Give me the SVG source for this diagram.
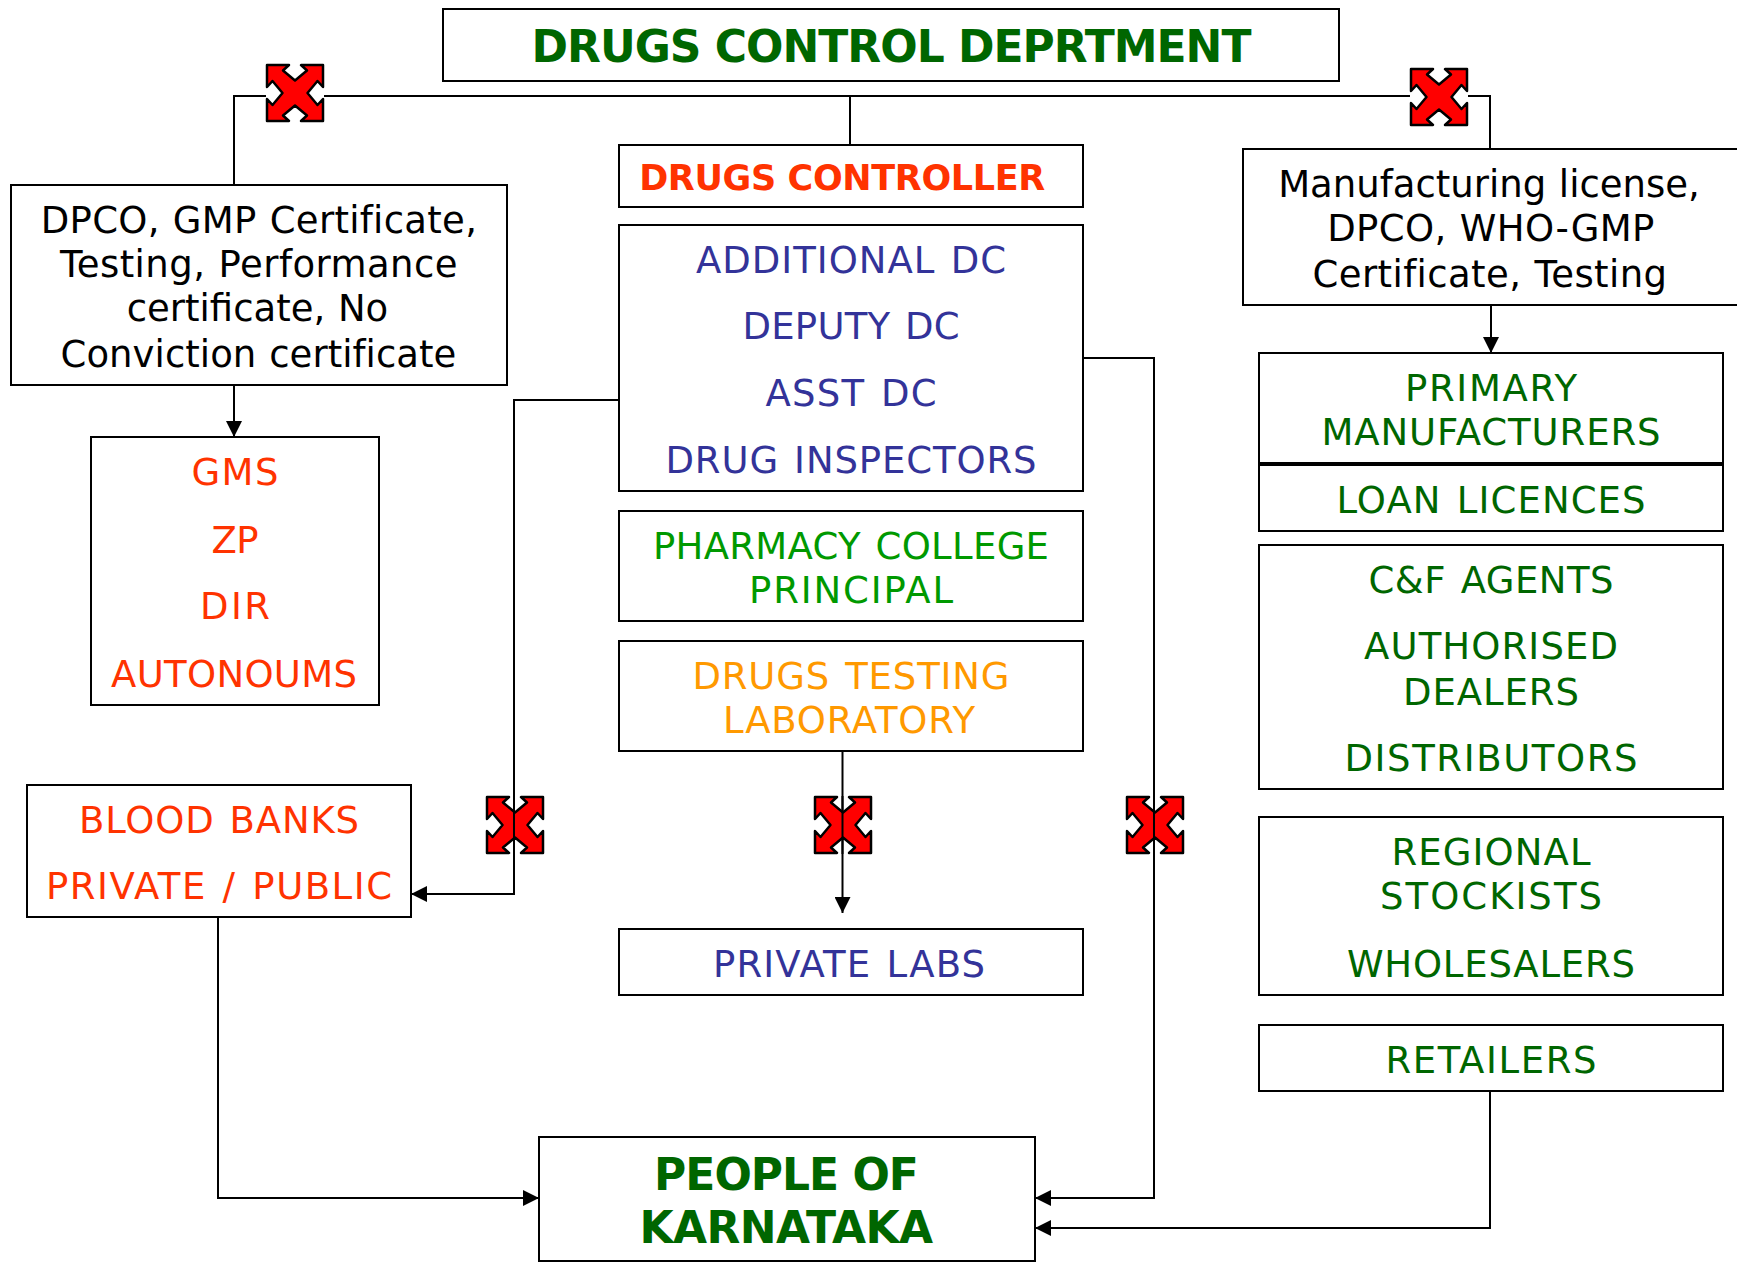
<svg xmlns="http://www.w3.org/2000/svg" width="1737" height="1262" viewBox="0 0 1737 1262">
<style>
text{font-family:"DejaVu Sans",Verdana,sans-serif;font-size:37px;text-anchor:middle;word-spacing:2.5px}
.b{fill:#fff;stroke:#000;stroke-width:2}
.c{fill:none;stroke:#000;stroke-width:2}
.x{fill:#f00;stroke:#000;stroke-width:2.5;stroke-linejoin:round}
.g{fill:#006600}.r{fill:#ff3300}.n{fill:#333399}.k{fill:#000;word-spacing:1px}.l{fill:#009900}.o{fill:#ff9900}
.h{font-weight:bold;font-size:44px;letter-spacing:-1px;word-spacing:0}
</style>
<defs>
<marker id="a" markerUnits="userSpaceOnUse" markerWidth="16" markerHeight="16" refX="16" refY="8" orient="auto"><path d="M0 0L16 8L0 16Z" fill="#000"/></marker>
<polygon id="m" points="1,1 23,1 17,6.5 29,16.5 41,6.5 35,1 57,1 57,23 51.5,17 41.5,29 51.5,41 57,35 57,57 35,57 41,51.5 29,41.5 17,51.5 23,57 1,57 1,35 6.5,41 16.5,29 6.5,17 1,23"/>
</defs>
<g id="connectors">
<path class="c" d="M234 185V96H1490V149"/>
<path class="c" d="M850 96V145"/>
<path class="c" d="M234 385V437" marker-end="url(#a)"/>
<path class="c" d="M1491 305V353" marker-end="url(#a)"/>
<path class="c" d="M619 400H514V894H411" marker-end="url(#a)"/>
<path class="c" d="M842.5 751V913" marker-end="url(#a)"/>
<path class="c" d="M1083 358H1154V1198H1035" marker-end="url(#a)"/>
<path class="c" d="M218 917V1198H539" marker-end="url(#a)"/>
<path class="c" d="M1490 1091V1228H1035" marker-end="url(#a)"/>
</g>
<g id="marks">
<g transform="translate(266 64)"><rect width="58" height="58" fill="#fff"/><use href="#m" class="x"/></g>
<g transform="translate(1410 68)"><rect width="58" height="58" fill="#fff"/><use href="#m" class="x"/></g>
<use href="#m" class="x" x="486" y="796"/>
<use href="#m" class="x" x="814" y="796"/>
<use href="#m" class="x" x="1126" y="796"/>
</g>
<path class="c" d="M514 796V854M842.5 796V854M1154 796V854"/>
<g id="title"><rect class="b" x="443" y="9" width="896" height="72"/><text class="g h" x="891" y="62">DRUGS CONTROL DEPRTMENT</text></g>
<g id="dc"><rect class="b" x="619" y="145" width="464" height="62"/><text class="r h" x="842" y="190" style="font-size:35px;letter-spacing:-.35px">DRUGS CONTROLLER</text></g>
<g id="officers"><rect class="b" x="619" y="225" width="464" height="266"/><text class="n" x="851" y="273" textLength="310">ADDITIONAL DC</text><text class="n" x="851" y="339" textLength="217">DEPUTY DC</text><text class="n" x="851" y="406" textLength="171">ASST DC</text><text class="n" x="851" y="473" textLength="371">DRUG INSPECTORS</text></g>
<g id="pharmacy"><rect class="b" x="619" y="511" width="464" height="110"/><text class="l" x="851" y="559" textLength="396">PHARMACY COLLEGE</text><text class="l" x="851" y="603" textLength="204">PRINCIPAL</text></g>
<g id="testing"><rect class="b" x="619" y="641" width="464" height="110"/><text class="o" x="851" y="689" textLength="317">DRUGS TESTING</text><text class="o" x="849" y="733" textLength="252">LABORATORY</text></g>
<g id="labs"><rect class="b" x="619" y="929" width="464" height="66"/><text class="n" x="849" y="977" textLength="272">PRIVATE LABS</text></g>
<g id="dpco"><rect class="b" x="11" y="185" width="496" height="200"/><text class="k" x="259" y="233" style="letter-spacing:.3px">DPCO, GMP Certificate,</text><text class="k" x="259" y="277" style="letter-spacing:.45px">Testing, Performance</text><text class="k" x="257.5" y="321">certificate, No</text><text class="k" x="258.5" y="367" style="letter-spacing:.05px">Conviction certificate</text></g>
<g id="gms"><rect class="b" x="91" y="437" width="288" height="268"/><text class="r" x="235" y="485" textLength="87">GMS</text><text class="r" x="235" y="553" textLength="47">ZP</text><text class="r" x="235" y="619" textLength="70">DIR</text><text class="r" x="234" y="687" textLength="246">AUTONOUMS</text></g>
<g id="blood"><rect class="b" x="27" y="785" width="384" height="132"/><text class="r" x="219" y="833" textLength="280">BLOOD BANKS</text><text class="r" x="219" y="899" textLength="346">PRIVATE / PUBLIC</text></g>
<g id="people"><rect class="b" x="539" y="1137" width="496" height="124"/><text class="g h" x="786" y="1190">PEOPLE OF</text><text class="g h" x="786" y="1243" style="letter-spacing:-.6px">KARNATAKA</text></g>
<g id="license"><rect class="b" x="1243" y="149" width="504" height="156"/><text class="k" x="1489" y="197">Manufacturing license,</text><text class="k" x="1491" y="241" style="letter-spacing:.4px">DPCO, WHO-GMP</text><text class="k" x="1490" y="287" style="letter-spacing:.4px">Certificate, Testing</text></g>
<g id="primary"><rect class="b" x="1259" y="353" width="464" height="110"/><text class="g" x="1491" y="401" textLength="172">PRIMARY</text><text class="g" x="1491" y="445" textLength="339">MANUFACTURERS</text></g>
<g id="loan"><rect class="b" x="1259" y="465" width="464" height="66"/><text class="g" x="1491" y="513" textLength="309">LOAN LICENCES</text></g>
<path d="M1259 464H1723" stroke="#000" stroke-width="4"/>
<g id="agents"><rect class="b" x="1259" y="545" width="464" height="244"/><text class="g" x="1491" y="593" textLength="245">C&amp;F AGENTS</text><text class="g" x="1491" y="659" textLength="254">AUTHORISED</text><text class="g" x="1491" y="705" textLength="176">DEALERS</text><text class="g" x="1491" y="771" textLength="293">DISTRIBUTORS</text></g>
<g id="stockists"><rect class="b" x="1259" y="817" width="464" height="178"/><text class="g" x="1491" y="865" textLength="199">REGIONAL</text><text class="g" x="1491" y="909" textLength="222">STOCKISTS</text><text class="g" x="1491" y="977" textLength="288">WHOLESALERS</text></g>
<g id="retailers"><rect class="b" x="1259" y="1025" width="464" height="66"/><text class="g" x="1491" y="1073" textLength="211">RETAILERS</text></g>
</svg>
